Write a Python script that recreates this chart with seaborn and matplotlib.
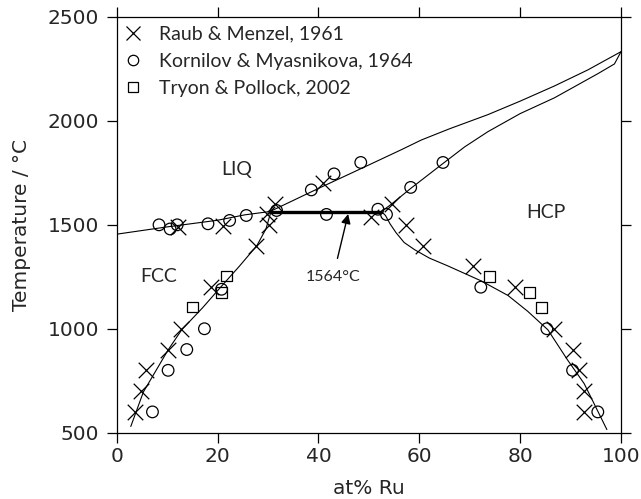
import matplotlib
matplotlib.use("Agg")
import matplotlib.pyplot as plt
from matplotlib.lines import Line2D
import seaborn as sns

# ---- data ----
# Raub & Menzel, 1961 (crosses)
rm_x = [3.6, 4.8, 5.9, 10.1, 12.7, 18.8, 27.7, 30.3, 29.8, 31.4,
        12.1, 21.1, 40.9, 50.5, 54.5,
        57.4, 60.7, 70.6, 78.9, 86.8, 90.4, 91.7, 92.7, 92.7]
rm_T = [600, 700, 800, 900, 1000, 1200, 1400, 1500, 1550, 1600,
        1490, 1495, 1700, 1540, 1600,
        1500, 1400, 1300, 1200, 1000, 900, 800, 700, 600]

# Kornilov & Myasnikova, 1964 (circles)
km_x = [7.1, 10.2, 13.9, 17.4, 20.8,
        8.4, 10.6, 12.0, 18.1, 22.4, 25.7, 31.7,
        38.6, 43.1, 48.4, 41.6, 51.8, 53.5, 58.3, 64.7,
        72.2, 85.3, 90.4, 95.4]
km_T = [600, 800, 900, 1000, 1190,
        1500, 1480, 1500, 1505, 1521, 1545, 1569,
        1668, 1745, 1800, 1550, 1575, 1550, 1680, 1800,
        1200, 1000, 800, 600]

# Tryon & Pollock, 2002 (squares)
tp_x = [15.0, 21.8, 20.8, 73.9, 81.8, 84.2]
tp_T = [1105, 1254, 1175, 1250, 1176, 1103]

# Phase boundaries
liq_x = [0, 10, 20, 25.4, 30.4, 40, 50, 56.5, 60.4, 66, 73.6, 80, 86.8, 93.4, 100]
liq_T = [1455, 1490, 1522, 1548, 1564, 1675, 1788, 1862, 1908, 1962, 2030, 2095, 2168, 2245, 2333]

hcp_sol_x = [52.5, 54.5, 58.3, 64.7, 69, 73.6, 80, 86.8, 95.4, 98.7, 100]
hcp_sol_T = [1564, 1600, 1675, 1795, 1875, 1948, 2035, 2111, 2227, 2274, 2333]

fcc_x = [2.8, 5.3, 10.2, 12.9, 17.0, 20.8, 24.3, 27.8, 29.6, 30.6]
fcc_T = [530, 696, 898, 995, 1100, 1205, 1300, 1400, 1480, 1564]

hcp_solv_x = [52.5, 53.3, 54.2, 55.4, 57, 59.1, 62, 65.7, 72.3, 77.6, 81.5, 85.5, 89.4, 92.7, 95, 97.2]
hcp_solv_T = [1564, 1545, 1505, 1462, 1415, 1380, 1340, 1302, 1230, 1160, 1084, 995, 850, 736, 623, 515]

peri_x = [30.4, 52.5]
peri_T = [1564, 1564]

x_ticks = [0, 20, 40, 60, 80, 100]
y_ticks = [500, 1000, 1500, 2000, 2500]
legend_labels = ["Raub & Menzel, 1961", "Kornilov & Myasnikova, 1964", "Tryon & Pollock, 2002"]
phase_labels = [("LIQ", 23.8, 1768), ("FCC", 8.3, 1250), ("HCP", 85.1, 1560)]

# ---- style ----
sns.set_theme(style="ticks")
plt.rcParams["font.family"] = ["Lato", "DejaVu Sans"]
FS = 14
TICK_FS = 14.5

fig = plt.figure(figsize=(6.41, 4.99), dpi=100)
ax = fig.add_axes([0.182, 0.1329, 0.9688 - 0.182, 0.966 - 0.1329])

lw = 0.8
for xs, ts in [(liq_x, liq_T), (hcp_sol_x, hcp_sol_T), (fcc_x, fcc_T), (hcp_solv_x, hcp_solv_T)]:
    sns.lineplot(x=xs, y=ts, ax=ax, color="black", lw=lw, sort=False, estimator=None)
sns.lineplot(x=peri_x, y=peri_T, ax=ax, color="black", lw=2.4, sort=False, estimator=None)

sns.scatterplot(x=rm_x, y=rm_T, ax=ax, marker="x", s=125, color="black", linewidth=0.9, zorder=5)
sns.scatterplot(x=km_x, y=km_T, ax=ax, marker="o", s=70, facecolor="none",
                edgecolor="black", linewidth=0.9, zorder=5)
sns.scatterplot(x=tp_x, y=tp_T, ax=ax, marker="s", s=60, facecolor="none",
                edgecolor="black", linewidth=0.9, zorder=5)

for txt, x, t in phase_labels:
    ax.text(x, t, txt, ha="center", va="center", fontsize=FS)

ax.annotate("1564\u00b0C", xy=(45.9, 1552), xytext=(42.9, 1250),
            ha="center", va="center", fontsize=11.5,
            arrowprops=dict(arrowstyle="-|>", color="black", lw=1.0,
                            mutation_scale=14, shrinkA=6, shrinkB=0))

ax.set_xlim(0, 100)
ax.set_ylim(500, 2500)
ax.set_xticks(x_ticks)
ax.set_yticks(y_ticks)
ax.set_xlabel("at% Ru", fontsize=TICK_FS, family="DejaVu Sans")
ax.set_ylabel("Temperature / \u00b0C", fontsize=TICK_FS, family="DejaVu Sans")
ax.xaxis.label.set_va("center")
ax.yaxis.label.set_va("center")
ax.xaxis.set_label_coords(0.5, -0.1336)
ax.yaxis.set_label_coords(-0.188, 0.5)

ax.tick_params(axis="both", which="major", direction="out", length=7, width=0.9,
               labelsize=TICK_FS, top=True, right=True, color="black")
ax.tick_params(axis="x", pad=3.5)
ax.tick_params(axis="y", pad=5.5)
for lab in ax.get_xticklabels() + ax.get_yticklabels():
    lab.set_family("DejaVu Sans")
for sp in ax.spines.values():
    sp.set_visible(True)
    sp.set_linewidth(0.9)
    sp.set_color("black")

handles = [
    Line2D([], [], ls="none", marker="x", ms=10.5, mew=0.9, color="black"),
    Line2D([], [], ls="none", marker="o", ms=7.5, mew=0.9, mfc="none", mec="black"),
    Line2D([], [], ls="none", marker="s", ms=7, mew=0.9, mfc="none", mec="black"),
]
ax.legend(handles, legend_labels, loc="upper left", frameon=False, fontsize=FS,
          handlelength=1.0, handletextpad=0.85, borderaxespad=0.3, labelspacing=0.52,
          bbox_to_anchor=(-0.014, 1.012))

fig.savefig("out.png", dpi=100)
